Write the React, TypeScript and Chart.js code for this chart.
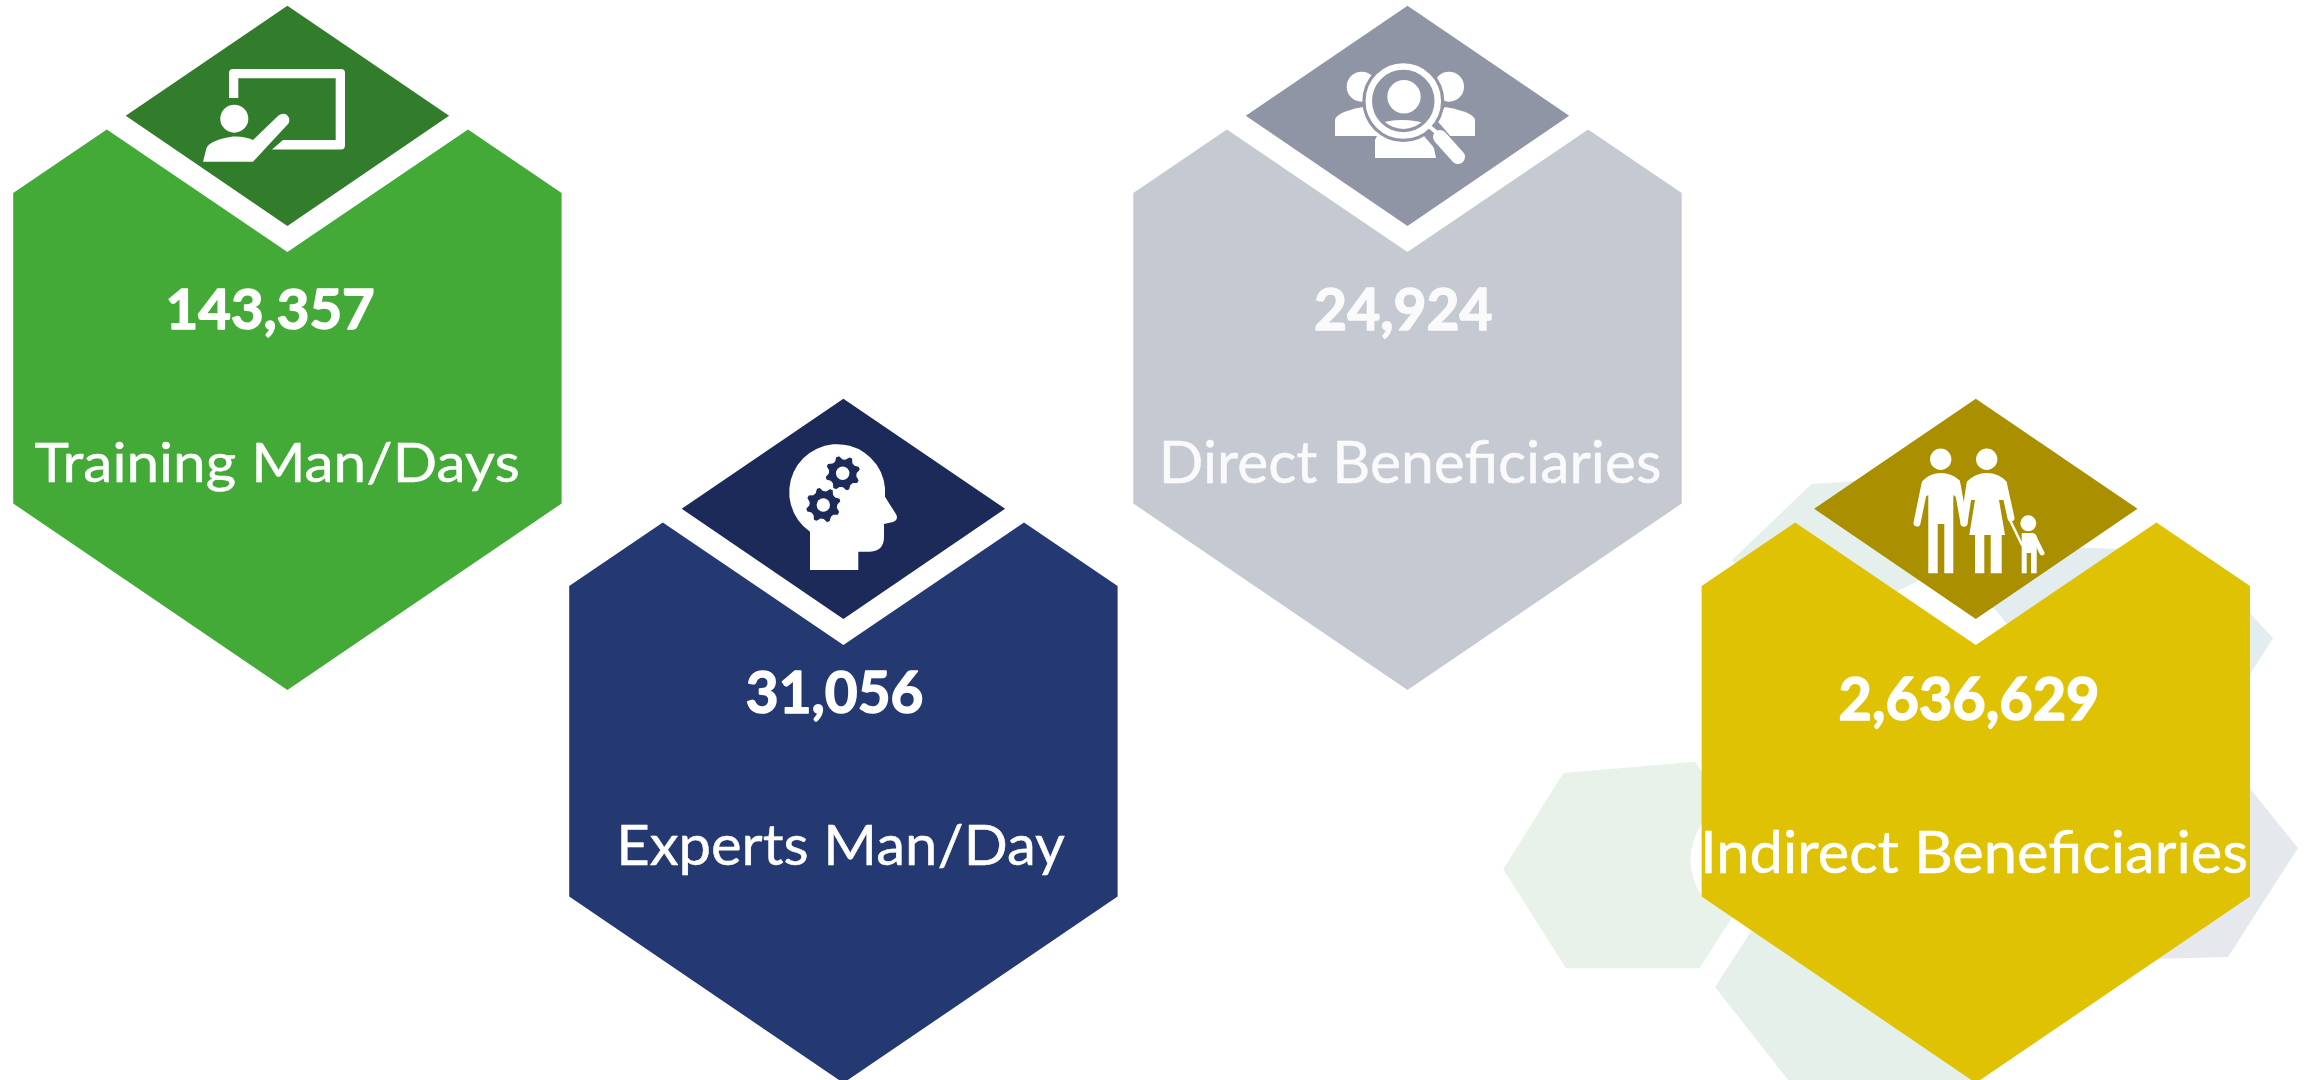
import React, { useEffect, useRef } from "react";
import { Chart, registerables } from "chart.js";

Chart.register(...registerables);

// ---- data ----
const categories = ["Training Man/Days", "Experts Man/Day", "Direct Beneficiaries", "Indirect Beneficiaries"];
const values = [143357, 31056, 24924, 2636629];

// ---- tile layout (top apex of each hexagon, in scale units = px) ----
const tileX = [287.4, 843.4, 1407.5, 1975.8];
const tileY = [5.8, 398.8, 5.8, 398.8];
const bodyColors = ["#43AA37", "#243872", "#C5C9D1", "#DFC203"];
const capColors = ["#327D2C", "#1C2A5A", "#8F95A4", "#AA8F00"];
const textColors = ["#FFFFFF", "#FFFFFF", "#FAFAFB", "#FFFFFF"];

// Text boxes: left, right, cap top, baseline
const valueBoxes = [
  [168.4, 373, 289, 329],
  [746.8, 921.8, 671.7, 712.6],
  [1316, 1491.8, 288.5, 329.5],
  [1840.5, 2096.8, 678, 720],
];
const labelBoxes = [
  [34.4, 517.8, 443, 482],
  [621, 1065, 825.7, 865.3],
  [1163.7, 1659.4, 442, 483],
  [1705, 2246, 832, 873],
];

const capShape = [[0, 0], [161.7, 110], [0, 220.2], [-161.7, 110]];
const bodyShape = [
  [0, 246.2], [-180.6, 123.7], [-274.2, 187.2], [-274.2, 497.8],
  [0, 684.2], [274.2, 497.8], [274.2, 187.2], [180.6, 123.7],
];

// ---- faint background hexagons ----
const decor = [
  { color: "#E5F0EC", pts: [[1811.5, 484], [1870, 480], [1960, 560], [1800, 640], [1732, 560]] },
  { color: "#E3ECEE", pts: [[1985, 545], [2192, 551], [2273, 638], [2244, 684], [2000, 700], [1960, 620]] },
  { color: "#E5E8EC", pts: [[2240, 776], [2298, 848], [2228, 957], [2150, 959], [2150, 800]] },
  { color: "#E8F2E9", pts: [[1563.3, 773], [1695, 761.7], [1766, 865], [1699.3, 968.3], [1566, 968.3], [1503.3, 869.3]] },
  { color: "#E5F0EA", pts: [[1715, 987], [1752, 930], [1900, 900], [1975, 1085], [1792, 1085]] },
];
const decorCutout =
  "M1701 825 Q1680 860 1701 895 L1800 890 L2000 800 L2040 660 L2006 623 Q1985 590 1938 594 Q1915 597 1890 615 Z";

// ---- pictograms, in page units ----
function gearPath(cx: number, cy: number, ro: number, ri: number, teeth: number) {
  const n = teeth * 4;
  let d = "";
  for (let i = 0; i < n; i++) {
    const a = (i / n) * Math.PI * 2 + Math.PI / 8;
    const r = i % 4 < 2 ? ro : ri;
    d += (i ? "L" : "M") + (cx + r * Math.cos(a)).toFixed(1) + " " + (cy + r * Math.sin(a)).toFixed(1);
  }
  return d + "Z";
}
const circle = (cx: number, cy: number, r: number) =>
  `M${cx - r} ${cy}A${r} ${r} 0 1 0 ${cx + r} ${cy}A${r} ${r} 0 1 0 ${cx - r} ${cy}Z`;

function iconTrainer(ctx: CanvasRenderingContext2D) {
  ctx.fillStyle = "#fff";
  ctx.fill(new Path2D(
    "M229 98L229 73Q229 69 233 69L341 69Q345 69 345 73L345 145Q345 149.5 341 149.5L272 149.5L283 140L335.7 140L335.7 78.3L238.3 78.3L238.3 98Z"
  ));
  ctx.fill(new Path2D(circle(234.3, 118.7, 14)));
  ctx.fill(new Path2D(
    "M203 161.7L206.5 148Q210 140 233 136.5Q245 136 253 140L278.5 115.5Q283 112.5 287 115Q291 119 288.5 123.5L253 161.7Z"
  ));
}

function iconHead(ctx: CanvasRenderingContext2D, cap: string) {
  ctx.fillStyle = "#fff";
  ctx.fill(new Path2D(
    "M810 570L858.3 570L858.3 551.7L870 551.7Q884 551 884 536.7L884 524L893 522Q898.5 520 896.5 515L885 496.7A48 48 0 1 0 810 531.7Z"
  ));
  ctx.lineJoin = "round";
  ctx.strokeStyle = "#fff";
  ctx.lineWidth = 1.2;
  for (const [x, y] of [[823.3, 505], [842.7, 473.3]]) {
    const g = new Path2D(gearPath(x, y, 18, 14.5, 8));
    ctx.fillStyle = cap;
    ctx.fill(g);
    ctx.stroke(g);
  }
  ctx.fillStyle = "#fff";
  ctx.fill(new Path2D(circle(823.3, 505, 6.7)));
  ctx.fill(new Path2D(circle(842.7, 473.3, 6.7)));
}

function iconSearch(ctx: CanvasRenderingContext2D, cap: string) {
  const lensY = 101;
  ctx.fillStyle = "#fff";
  ctx.fill(new Path2D(circle(1361.7, 86.7, 15)));
  ctx.fill(new Path2D(circle(1449, 86.7, 15)));
  ctx.fill(new Path2D("M1335 136L1335 120Q1336 112 1363 107L1390 136Z"));
  ctx.fill(new Path2D("M1475 136L1475 120Q1474 112 1445 107L1420 136Z"));
  ctx.fill(new Path2D("M1375 158L1375 140L1380 130L1430 130L1436 158Z"));
  ctx.fillStyle = cap;
  ctx.fill(new Path2D(circle(1403.3, lensY, 41)));
  ctx.lineCap = "round";
  ctx.strokeStyle = cap;
  ctx.lineWidth = 20;
  ctx.beginPath(); ctx.moveTo(1432, 130); ctx.lineTo(1456, 158); ctx.stroke();
  ctx.strokeStyle = "#fff";
  ctx.lineWidth = 14;
  ctx.beginPath(); ctx.moveTo(1440, 137); ctx.lineTo(1458, 157); ctx.stroke();
  ctx.lineWidth = 4;
  ctx.beginPath(); ctx.moveTo(1430, 127); ctx.lineTo(1442, 137); ctx.stroke();
  ctx.lineWidth = 6.5;
  ctx.beginPath(); ctx.arc(1403.3, lensY, 34.5, 0, Math.PI * 2); ctx.stroke();
  ctx.fillStyle = "#fff";
  ctx.fill(new Path2D(circle(1404, 96.7, 16.7)));
  ctx.save();
  ctx.beginPath(); ctx.arc(1403.3, lensY, 28, 0, Math.PI * 2); ctx.clip();
  ctx.fill(new Path2D("M1370 140L1375 125Q1400 115 1432 125L1440 140Z"));
  ctx.restore();
}

function iconFamily(ctx: CanvasRenderingContext2D) {
  ctx.fillStyle = "#fff";
  ctx.strokeStyle = "#fff";
  ctx.lineCap = "round";
  for (const [x, y, r] of [[1940.7, 459.3, 10.7], [1986.7, 459.3, 10.7], [2028.3, 523.3, 8]]) {
    ctx.fill(new Path2D(circle(x, y, r)));
  }
  // man
  ctx.fill(new Path2D(
    "M1922.7 480.7Q1930 473 1941 473Q1952 473 1960 480.7L1960 500L1953.3 495L1953.3 573.3L1944.3 573.3L1944.3 524L1937.7 524L1937.7 573.3L1928.3 573.3L1928.3 495L1920 500Z"
  ));
  // woman
  ctx.fill(new Path2D(
    "M1967 481.7Q1975 473 1986.7 473Q1999 473 2006.7 481.7L2006 500L1999 500L2005 535L2001.7 535L2001.7 573.3L1990.7 573.3L1990.7 535L1984.3 535L1984.3 573.3L1975 573.3L1975 535L1969.3 535L1975 500L1968 500Z"
  ));
  // child
  ctx.fill(new Path2D(
    "M2021.7 533L2032 533Q2036 533 2036.7 537L2036.7 573.3L2031 573.3L2031 553L2026.7 553L2026.7 573.3L2021.7 573.3Z"
  ));
  const arm = (w: number, x1: number, y1: number, x2: number, y2: number) => {
    ctx.lineWidth = w;
    ctx.beginPath(); ctx.moveTo(x1, y1); ctx.lineTo(x2, y2); ctx.stroke();
  };
  arm(7, 1925, 484, 1917, 523);
  arm(7, 1957, 484, 1964, 523);
  arm(7, 1970, 484, 1964, 523);
  arm(7, 2003.5, 484, 2011, 518);
  arm(2.5, 2009, 518, 2022, 545);
  arm(5, 2034, 537, 2042, 553);
}

const iconDrawers = [iconTrainer, iconHead, iconSearch, iconFamily];

const tilesPlugin = {
  id: "kpiTiles",
  beforeDatasetsDraw(chart: any) {
    const { ctx, scales } = chart;
    const polygon = (pts: number[][]) => {
      ctx.beginPath();
      pts.forEach(([x, y], i) => {
        const px = scales.x.getPixelForValue(x);
        const py = scales.y.getPixelForValue(y);
        if (i) ctx.lineTo(px, py);
        else ctx.moveTo(px, py);
      });
      ctx.closePath();
    };
    ctx.save();
    decor.forEach((d) => {
      polygon(d.pts);
      ctx.fillStyle = d.color;
      ctx.fill();
    });
    ctx.fillStyle = "#FFFFFF";
    ctx.fill(new Path2D(decorCutout));
    ctx.restore();
  },
  afterDatasetsDraw(chart: any) {
    const { ctx, scales } = chart;
    const meta = chart.getDatasetMeta(0);

    const fitText = (text: string, box: number[], weight: string, color: string, thicken: number) => {
      const [l, r, top, base] = box;
      ctx.save();
      ctx.font = `${weight} 60px Lato`;
      ctx.textBaseline = "alphabetic";
      ctx.textAlign = "left";
      const m = ctx.measureText(text);
      const cap = ctx.measureText("H").actualBoundingBoxAscent;
      const w = m.actualBoundingBoxLeft + m.actualBoundingBoxRight;
      const x0 = scales.x.getPixelForValue(l);
      const x1 = scales.x.getPixelForValue(r);
      const y0 = scales.y.getPixelForValue(top);
      const y1 = scales.y.getPixelForValue(base);
      ctx.translate(x0, y1);
      ctx.scale((x1 - x0) / w, (y1 - y0) / cap);
      ctx.fillStyle = color;
      ctx.strokeStyle = color;
      ctx.lineJoin = "round";
      ctx.lineWidth = thicken;
      ctx.fillText(text, m.actualBoundingBoxLeft, 0);
      ctx.strokeText(text, m.actualBoundingBoxLeft, 0);
      ctx.restore();
    };

    meta.data.forEach((el: any, i: number) => {
      const poly = (shape: number[][], color: string) => {
        ctx.beginPath();
        shape.forEach(([dx, dy], k) => {
          const px = scales.x.getPixelForValue(tileX[i] + dx);
          const py = scales.y.getPixelForValue(tileY[i] + dy);
          if (k) ctx.lineTo(px, py);
          else ctx.moveTo(px, py);
        });
        ctx.closePath();
        ctx.fillStyle = color;
        ctx.fill();
      };
      ctx.save();
      poly(bodyShape, bodyColors[i]);
      poly(capShape, capColors[i]);
      ctx.translate(el.x - tileX[i], el.y - tileY[i]);
      iconDrawers[i](ctx, capColors[i]);
      ctx.restore();
      fitText(values[i].toLocaleString("en-US"), valueBoxes[i], "bold", textColors[i], 1.6);
      fitText(categories[i], labelBoxes[i], "normal", textColors[i], 0.5);
    });
  },
};

export default function App() {
  const ref = useRef<HTMLCanvasElement>(null);
  useEffect(() => {
    if (!ref.current) return;
    const chart = new Chart(ref.current, {
      type: "scatter",
      data: {
        labels: categories,
        datasets: [
          {
            label: "KPI tiles",
            data: tileX.map((x, i) => ({ x, y: tileY[i] })),
            pointRadius: 0,
          },
        ],
      },
      options: {
        animation: false,
        responsive: false,
        layout: { padding: 0 },
        plugins: { legend: { display: false }, tooltip: { enabled: false } },
        scales: {
          x: { type: "linear", min: 0, max: 2305, display: false },
          y: { type: "linear", min: 0, max: 1080, reverse: true, display: false },
        },
      },
      plugins: [tilesPlugin],
    } as any);
    return () => chart.destroy();
  }, []);
  return (
    <div style={{ position: "absolute", left: 0, top: 0, width: 2305, height: 1080, background: "#fff" }}>
      <canvas ref={ref} width={2305} height={1080} style={{ display: "block" }} />
    </div>
  );
}
